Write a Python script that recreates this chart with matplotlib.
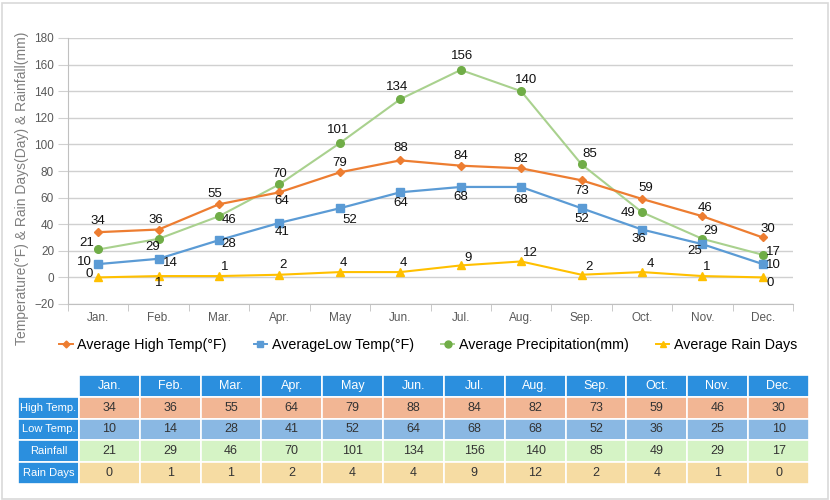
import matplotlib
matplotlib.use("Agg")
import matplotlib.pyplot as plt
from matplotlib.patches import Rectangle
from matplotlib.lines import Line2D

plt.rcParams['font.family'] = ['Liberation Sans', 'DejaVu Sans']

months = ["Jan.", "Feb.", "Mar.", "Apr.", "May", "Jun.", "Jul.", "Aug.", "Sep.", "Oct.", "Nov.", "Dec."]
high_temp = [34, 36, 55, 64, 79, 88, 84, 82, 73, 59, 46, 30]
low_temp = [10, 14, 28, 41, 52, 64, 68, 68, 52, 36, 25, 10]
rainfall = [21, 29, 46, 70, 101, 134, 156, 140, 85, 49, 29, 17]
rain_days = [0, 1, 1, 2, 4, 4, 9, 12, 2, 4, 1, 0]

series_names = ["Average High Temp(°F)", "AverageLow Temp(°F)",
                "Average Precipitation(mm)", "Average Rain Days"]
row_labels = ["High Temp.", "Low Temp.", "Rainfall", "Rain Days"]
y_ticks = [-20, 0, 20, 40, 60, 80, 100, 120, 140, 160, 180]

# label offsets in pixels (dx, dy up)
off_high = [(0, 11), (-3, 10), (-4, 10), (2, -9), (0, 9), (0, 12), (0, 10), (0, 9), (0, -11), (4, 11), (3, 8), (5, 9)]
off_low = [(-14, 2), (12, -4), (10, -4), (3, -9), (10, -12), (0, -11), (0, -10), (0, -13), (0, -11), (-3, -9), (-8, -7), (11, -1)]
off_rain = [(-11, 6), (-6, -8), (10, -4), (0, 10), (-2, 13), (-3, 12), (1, 14), (5, 11), (8, 10), (-14, -1), (8, 8), (11, 3)]
off_days = [(-9, 3), (0, -7), (6, 9), (4, 10), (4, 9), (3, 9), (7, 7), (9, 8), (7, 8), (8, 8), (4, 9), (7, -6)]

W, H = 830, 500
fig = plt.figure(figsize=(8.3, 5.0), dpi=100)
fig.patch.set_facecolor("white")

# outer border
fig.add_artist(Rectangle((1.5 / W, 1.5 / H), (W - 4) / W, (H - 4) / H, transform=fig.transFigure,
                         fill=False, edgecolor="#d9d9d9", linewidth=1.2))

L, R, T, B = 68, 793, 38, 304
ax = fig.add_axes([L / W, 1 - B / H, (R - L) / W, (B - T) / H])
x = list(range(len(months)))

c_high, c_low = "#ed7d31", "#5b9bd5"
c_rain_line, c_rain_mk = "#a9d18e", "#70ad47"
c_days = "#ffc000"

ax.plot(x, rainfall, color=c_rain_line, lw=1.5, marker="o", ms=5.5, mfc=c_rain_mk, mec=c_rain_mk, zorder=3)
ax.plot(x, high_temp, color=c_high, lw=1.6, marker="D", ms=3.8, mfc=c_high, mec=c_high, zorder=4)
ax.plot(x, low_temp, color=c_low, lw=1.6, marker="s", ms=5.5, mfc=c_low, mec=c_low, zorder=4)
ax.plot(x, rain_days, color=c_days, lw=1.5, marker="^", ms=5.5, mfc=c_days, mec=c_days, zorder=4)

for vals, offs in [(high_temp, off_high), (low_temp, off_low), (rainfall, off_rain), (rain_days, off_days)]:
    for i, v in enumerate(vals):
        ax.annotate(str(v), (i, v), xytext=offs[i], textcoords="offset pixels",
                    ha="center", va="center", fontsize=9.5, color="#111111", zorder=6)

ax.set_xlim(-0.5, len(months) - 0.5)
ax.set_ylim(-20, 180)
ax.set_yticks(y_ticks)
ax.grid(axis="y", color="#d0d0d0", lw=1.0)
ax.set_axisbelow(True)
for s in ["top", "right"]:
    ax.spines[s].set_visible(False)
ax.spines["left"].set_color("#c0c0c0")
ax.spines["bottom"].set_color("#c0c0c0")
ax.tick_params(axis="y", length=7, color="#d0d0d0", labelsize=8.5, labelcolor="#595959", pad=3)
ax.set_xticks(x)
ax.set_xticklabels(months)
ax.tick_params(axis="x", length=0, labelsize=8.5, labelcolor="#595959", pad=6)
ax.set_xticks([i + 0.5 for i in range(-1, len(months))], minor=True)
ax.tick_params(axis="x", which="minor", length=5, color="#c0c0c0")

fig.text(22 / W, 1 - 188 / H, "Temperature(°F) & Rain Days(Day) & Rainfall(mm)", rotation=90,
         ha="center", va="center", fontsize=10, color="#7f7f7f")

handles = [
    Line2D([], [], color=c_high, lw=1.4, marker="D", ms=3.5),
    Line2D([], [], color=c_low, lw=1.4, marker="s", ms=5),
    Line2D([], [], color=c_rain_line, lw=1.4, marker="o", ms=5, mfc=c_rain_mk, mec=c_rain_mk),
    Line2D([], [], color=c_days, lw=1.4, marker="^", ms=5),
]
fig.legend(handles, series_names, loc="center", bbox_to_anchor=(428 / W, 1 - 345 / H), ncol=4,
           frameon=False, fontsize=10.3, handlelength=0.95, handletextpad=0.3, columnspacing=1.9,
           borderpad=0.2)

# table
TL, TR, TT, TB = 18, 809, 375, 484
tab = fig.add_axes([TL / W, 1 - TB / H, (TR - TL) / W, (TB - TT) / H])
tab.set_xlim(0, 13)
tab.set_ylim(5, 0)
tab.axis("off")
blue = "#2b8fde"
row_colors = ["#f2b694", "#8ab8e3", "#d5f3c5", "#f6dca3"]
table_rows = [high_temp, low_temp, rainfall, rain_days]
for j, m in enumerate(months):
    tab.add_patch(Rectangle((j + 1, 0), 1, 1, facecolor=blue, edgecolor="white", lw=1.2))
    tab.text(j + 1.5, 0.5, m, ha="center", va="center", color="white", fontsize=9)
for r, (lab, vals) in enumerate(zip(row_labels, table_rows)):
    tab.add_patch(Rectangle((0, r + 1), 1, 1, facecolor=blue, edgecolor="white", lw=1.2))
    tab.text(0.5, r + 1.5, lab, ha="center", va="center", color="white", fontsize=8)
    for j, v in enumerate(vals):
        tab.add_patch(Rectangle((j + 1, r + 1), 1, 1, facecolor=row_colors[r], edgecolor="white", lw=1.2))
        tab.text(j + 1.5, r + 1.5, str(v), ha="center", va="center", color="#333333", fontsize=9)

fig.savefig("out.png", dpi=100, facecolor="white")
